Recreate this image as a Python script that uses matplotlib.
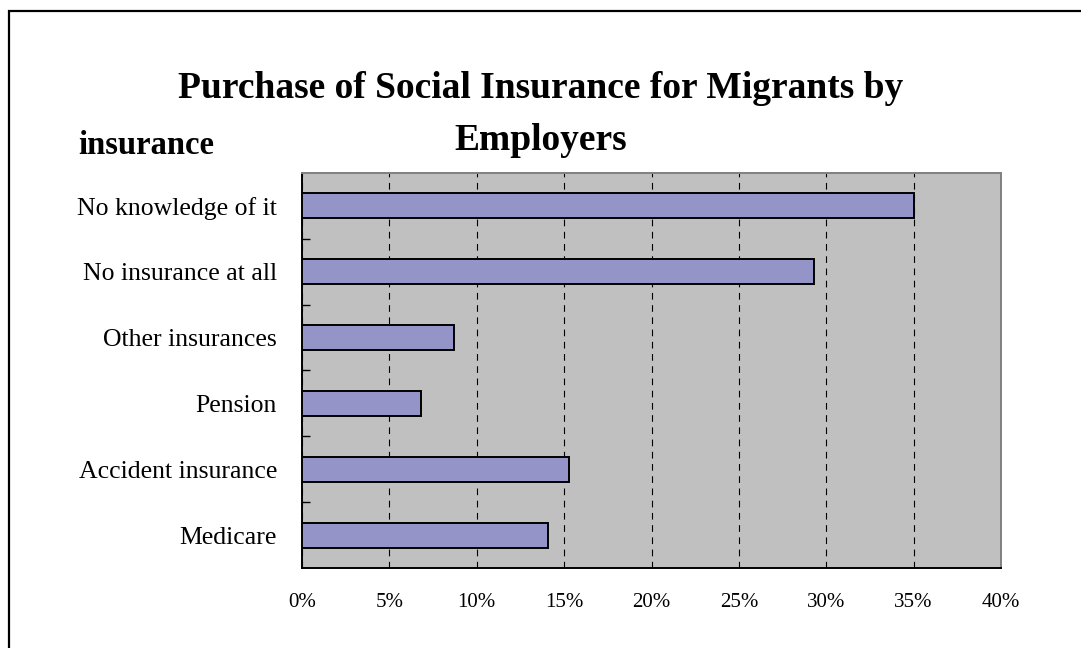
import matplotlib.pyplot as plt
import matplotlib.patches as patches
from matplotlib.ticker import FixedLocator, FuncFormatter

plt.rcParams['font.family'] = ['Liberation Serif', 'DejaVu Serif']

categories = ['Medicare', 'Accident insurance', 'Pension',
              'Other insurances', 'No insurance at all', 'No knowledge of it']
shares = [14.1, 15.3, 6.8, 8.7, 29.3, 35.0]
x_ticks = [0, 5, 10, 15, 20, 25, 30, 35, 40]

fig = plt.figure(figsize=(10.81, 6.48), dpi=100)
ax = fig.add_axes([0.2794, 0.1235, 0.6466, 0.6096])
ax.set_facecolor('#C0C0C0')

ypos = list(range(len(categories)))
ax.barh(ypos, shares, height=0.38, color='#9494C8', edgecolor='black',
        linewidth=1.4, zorder=3)

ax.set_xlim(0, 40)
ax.set_ylim(-0.5, len(categories) - 0.5)
ax.set_xticks(x_ticks)
ax.xaxis.set_major_formatter(FuncFormatter(lambda v, p: '%d%%' % v))
ax.grid(axis='x', color='black', linestyle=(0, (6, 5)), linewidth=0.8, zorder=1)

ax.set_yticks(ypos)
ax.set_yticklabels(categories)
ax.yaxis.set_minor_locator(FixedLocator([i + 0.5 for i in ypos[:-1]]))
ax.tick_params(axis='y', which='major', length=0, pad=18, labelsize=18.5)
ax.tick_params(axis='y', which='minor', direction='in', length=6, width=1, color='black')
ax.tick_params(axis='x', which='major', length=0, pad=18, labelsize=15)

for side in ['left', 'bottom']:
    ax.spines[side].set_color('black')
    ax.spines[side].set_linewidth(1.4)
for side in ['top', 'right']:
    ax.spines[side].set_color('#808080')
    ax.spines[side].set_linewidth(1.4)

fig.text(0.5, 1 - 88 / 648, 'Purchase of Social Insurance for Migrants by',
         ha='center', va='center', fontsize=27, fontweight='bold')
fig.text(0.5, 1 - 140 / 648, 'Employers',
         ha='center', va='center', fontsize=27, fontweight='bold')
fig.text(78 / 1081, 1 - 146 / 648, 'insurance',
         ha='left', va='center', fontsize=23.5, fontweight='bold')

border = patches.Rectangle((9 / 1081, -0.1), 1.2, 1.1 - 11 / 648,
                           transform=fig.transFigure, fill=False,
                           edgecolor='black', linewidth=1.6, clip_on=False)
fig.patches.append(border)

fig.savefig('out.png', dpi=100)
